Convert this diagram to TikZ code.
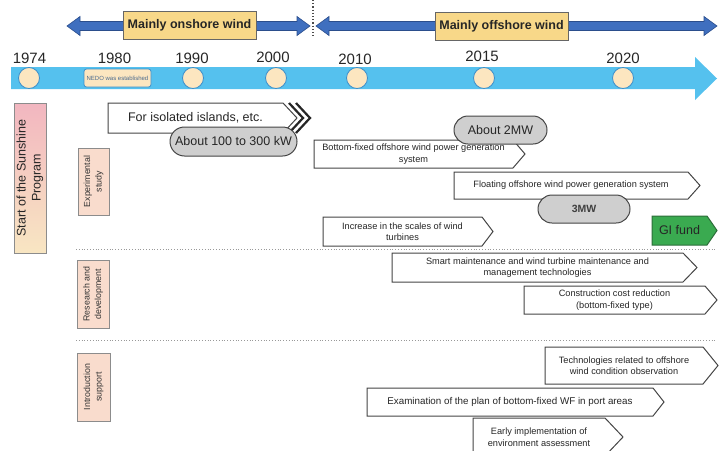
\documentclass[tikz,border=0pt]{standalone}
\usepackage{fontspec}
\setmainfont{Liberation Sans}
\usetikzlibrary{shapes.misc}
\definecolor{arrblue}{HTML}{3F6FBF}
\definecolor{arrblued}{HTML}{2B4E8C}
\definecolor{erafill}{HTML}{F8D889}
\definecolor{band}{HTML}{55C1EE}
\definecolor{dotfill}{HTML}{FCE6C0}
\definecolor{dotedge}{HTML}{3D8FCB}
\definecolor{catfill}{HTML}{F9DCCD}
\definecolor{sunA}{HTML}{F2B6C0}
\definecolor{sunB}{HTML}{F8E6C2}
\definecolor{pillfill}{HTML}{CFCFCF}
\definecolor{boxedge}{HTML}{454545}
\definecolor{gifill}{HTML}{3AAA50}
\definecolor{giedge}{HTML}{2D6E3A}
\definecolor{nedotext}{HTML}{4B6B8F}
\newcommand{\fsz}[1]{\fontsize{#1}{#1}\selectfont}
\newcommand{\pbox}[8][]{%
  \draw[procshape,#1] (#3,#4) -- (#5,#4) -- (#7,{(#4+#6)/2}) -- (#5,#6) -- (#3,#6) -- cycle;
  \node[proctext] (#2) at ({(#3+#5)/2},{(#4+#6)/2}) {#8};}
\tikzset{
  procshape/.style={draw=boxedge, fill=white, line width=1pt, line join=miter},
  proctext/.style={font=\fontsize{9.2}{11.5}\selectfont, align=center, inner sep=0pt, text=black!85},
  era/.style={draw=black!60, fill=erafill, line width=0.8pt, minimum width=133pt, minimum height=28pt, inner sep=0pt, font=\bfseries\fsz{12.5}, text=black!85},
  year/.style={inner sep=0pt, font=\fsz{15}, text=black!85},
  tdot/.style={circle, draw=dotedge, fill=dotfill, line width=0.8pt, minimum size=21pt, inner sep=0pt},
  pill/.style={rounded rectangle, draw=boxedge, fill=pillfill, line width=1pt, inner sep=0pt, font=\fsz{12.5}, text=black!85},
  cat/.style={draw=black!45, fill=catfill, line width=0.9pt, inner sep=0pt},
  cattext/.style={rotate=90, align=center, inner sep=0pt, font=\fontsize{8.8}{11.5}\selectfont, text=black!80},
  sep/.style={draw=black!40, dotted, line width=0.8pt},
}
\begin{document}
\begin{tikzpicture}[x=1pt,y=-1pt]
\useasboundingbox (0,0) rectangle (722,450);
% era arrows
\fill[arrblue, draw=arrblued, line width=0.6pt] (67,26) -- (80,16.5) -- (80,21.5) -- (297,21.5) -- (297,16.5) -- (310,26) -- (297,35.5) -- (297,30.5) -- (80,30.5) -- (80,35.5) -- cycle;
\fill[arrblue, draw=arrblued, line width=0.6pt] (316,26) -- (329,16.5) -- (329,21.5) -- (704,21.5) -- (704,16.5) -- (717,26) -- (704,35.5) -- (704,30.5) -- (329,30.5) -- (329,35.5) -- cycle;
\node[era] (onshore) at (189.5,25) {Mainly onshore wind};
\node[era] (offshore) at (501.5,26) {Mainly offshore wind};
\coordinate (dtop) at (313,0);
\coordinate (dbot) at (313,37);
\draw[black!70, dotted, line width=1.2pt] (dtop) -- (dbot);
% timeline
\fill[band] (11,67) -- (695,67) -- (695,57) -- (717,78.5) -- (695,100) -- (695,89) -- (11,89) -- cycle;
\node[year] (y1974) at (29.5,58.5) {1974};
\node[year] (y1980) at (114.5,58.5) {1980};
\node[year] (y1990) at (192,58.5) {1990};
\node[year] (y2000) at (273,57) {2000};
\node[year] (y2010) at (355,59) {2010};
\node[year] (y2015) at (482,56) {2015};
\node[year] (y2020) at (623,58) {2020};
\node[tdot] (c1974) at (29,78) {};
\node[tdot] (c1990) at (193,78) {};
\node[tdot] (c2000) at (276,78) {};
\node[tdot] (c2010) at (357,78) {};
\node[tdot] (c2015) at (484,78) {};
\node[tdot] (c2020) at (623,78) {};
\node[draw=dotedge, fill=dotfill, line width=0.8pt, rounded corners=2.5pt, minimum width=67pt, minimum height=18pt, inner sep=0pt, font=\fsz{6}, text=nedotext] (nedo) at (117.5,78) {NEDO was established};
% left column
\node[draw=black!45, line width=0.9pt, top color=sunA, bottom color=sunB, minimum width=32pt, minimum height=150pt, inner sep=0pt] (sun) at (30,178) {};
\node[rotate=90, align=center, inner sep=0pt, font=\fontsize{12.5}{15}\selectfont, text=black!85] (suntext) at (sun.center) {Start of the Sunshine\\Program};
\node[cat, minimum width=31pt, minimum height=67pt] (exp) at (93.5,181.5) {};
\node[cattext] (exptext) at (exp.center) {Experimental\\study};
\node[cat, minimum width=32pt, minimum height=68pt] (rnd) at (93,294) {};
\node[cattext] (rndtext) at (rnd.center) {Research and\\development};
\node[cat, minimum width=33pt, minimum height=68pt] (intro) at (93.5,387) {};
\node[cattext] (introtext) at (intro.center) {Introduction\\support};
% separators
\coordinate (s1l) at (76,249); \coordinate (s1r) at (717,249);
\coordinate (s2l) at (76,340); \coordinate (s2r) at (717,340);
\draw[sep] (s1l) -- (s1r);
\draw[sep] (s2l) -- (s2r);
% isolated islands box with chevrons
\draw[black!85, line width=2.2pt, line join=miter] (289,103) -- (303,118) -- (289,133);
\draw[black!85, line width=2.2pt, line join=miter] (296,103) -- (310,118) -- (296,133);
\draw[procshape] (108,103) -- (283,103) -- (297,118) -- (283,133) -- (108,133) -- cycle;
\node[inner sep=0pt, font=\fsz{12.5}, text=black!85] (islands) at (195.5,118) {For isolated islands, etc.};
% process boxes
\pbox{bfixed}{314}{140}{513}{168}{525}{Bottom-fixed offshore wind power generation\\system}
\pbox{floating}{454}{172}{688}{199}{700}{Floating offshore wind power generation system}
\pbox{increase}{323}{217}{482}{246}{493}{Increase in the scales of wind\\turbines}
\pbox[fill=gifill, draw=giedge]{gifund}{652}{216}{707}{245}{717}{\fsz{12.5}GI fund}
\pbox{smart}{392}{253}{683}{282}{697}{Smart maintenance and wind turbine maintenance and\\management technologies}
\pbox{constr}{524}{286}{705}{314}{717}{Construction cost reduction\\(bottom-fixed type)}
\pbox{techn}{545}{347}{703}{384}{718}{Technologies related to offshore\\wind condition observation}
\pbox{exam}{367}{388}{653}{416}{664}{\fontsize{9.8}{11.5}\selectfont Examination of the plan of bottom-fixed WF in port areas}
\pbox{early}{473}{418}{605}{456}{623}{Early implementation of\\environment assessment}
% pills
\node[pill, minimum width=127pt, minimum height=29pt] (p100) at (233.5,141.5) {About 100 to 300 kW};
\node[pill, minimum width=93pt, minimum height=28pt] (p2mw) at (500.5,130) {About 2MW};
\node[pill, minimum width=92pt, minimum height=28pt, font=\bfseries\fsz{10.5}, text=black!75] (p3mw) at (584,209) {3MW};
\end{tikzpicture}
\end{document}
